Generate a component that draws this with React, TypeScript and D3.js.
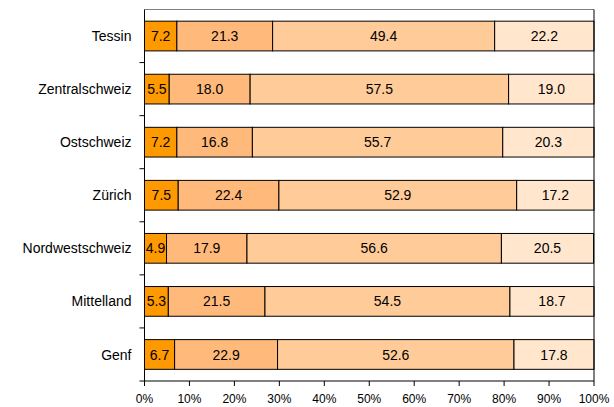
import React from "react";
import * as d3 from "d3";

const categories = ["Tessin", "Zentralschweiz", "Ostschweiz", "Zürich", "Nordwestschweiz", "Mittelland", "Genf"];
const series1 = [7.2, 5.5, 7.2, 7.5, 4.9, 5.3, 6.7];
const series2 = [21.3, 18.0, 16.8, 22.4, 17.9, 21.5, 22.9];
const series3 = [49.4, 57.5, 55.7, 52.9, 56.6, 54.5, 52.6];
const series4 = [22.2, 19.0, 20.3, 17.2, 20.5, 18.7, 17.8];
const tickValues = [0, 10, 20, 30, 40, 50, 60, 70, 80, 90, 100];
const colors = ["#FF9900", "#FFBA7B", "#FFCC99", "#FFE6CC"];

const W = 614, H = 407;
const L = 144.5, R = 594, T = 9.5, B = 381;

export default function App() {
  const x = d3.scaleLinear().domain([0, 100]).range([L, R]);
  const y = d3.scaleBand<string>().domain(categories).range([T, B]).paddingInner(0.44).paddingOuter(0.22);
  const allSeries = [series1, series2, series3, series4];
  const font = "Liberation Sans, Arial, sans-serif";
  const step = y.step();

  return (
    <svg width={W} height={H} style={{ position: "absolute", left: 0, top: 0 }} fontFamily={font}>
      <rect x={0} y={0} width={W} height={H} fill="#fff" />
      {categories.map((c, i) => {
        let acc = 0;
        const y0 = y(c)!;
        return (
          <g key={c}>
            {allSeries.map((s, k) => {
              const v = s[i];
              const x0 = x(acc);
              acc += v;
              const x1 = x(Math.min(acc, 100));
              return (
                <g key={k}>
                  <rect x={x0} y={y0} width={x1 - x0} height={y.bandwidth()} fill={colors[k]} stroke="#000" strokeWidth={1} />
                  <text x={(x0 + x1) / 2} y={y0 + y.bandwidth() / 2} dy="0.36em" textAnchor="middle" fontSize={14} fill="#000">
                    {v.toFixed(1)}
                  </text>
                </g>
              );
            })}
            <text x={L - 13} y={y0 + y.bandwidth() / 2} dy="0.36em" textAnchor="end" fontSize={14} fill="#000">
              {c}
            </text>
          </g>
        );
      })}
      {/* frame */}
      <line x1={L} x2={R} y1={T} y2={T} stroke="#808080" strokeWidth={1} />
      <line x1={R} x2={R} y1={T} y2={B} stroke="#000" strokeWidth={1} />
      <line x1={L} x2={L} y1={T} y2={B} stroke="#000" strokeWidth={1} />
      <line x1={L - 5} x2={R} y1={B} y2={B} stroke="#000" strokeWidth={1} />
      {categories.slice(1).map((c) => (
        <line key={c} x1={L - 5} x2={L} y1={y(c)! - step * 0.22} y2={y(c)! - step * 0.22} stroke="#000" />
      ))}
      {tickValues.map((t) => (
        <g key={t}>
          <line x1={x(t)} x2={x(t)} y1={B} y2={B + 5} stroke="#000" />
          <text x={x(t)} y={B + 18} dy="0.36em" textAnchor="middle" fontSize={12} fill="#000">
            {t}%
          </text>
        </g>
      ))}
    </svg>
  );
}
